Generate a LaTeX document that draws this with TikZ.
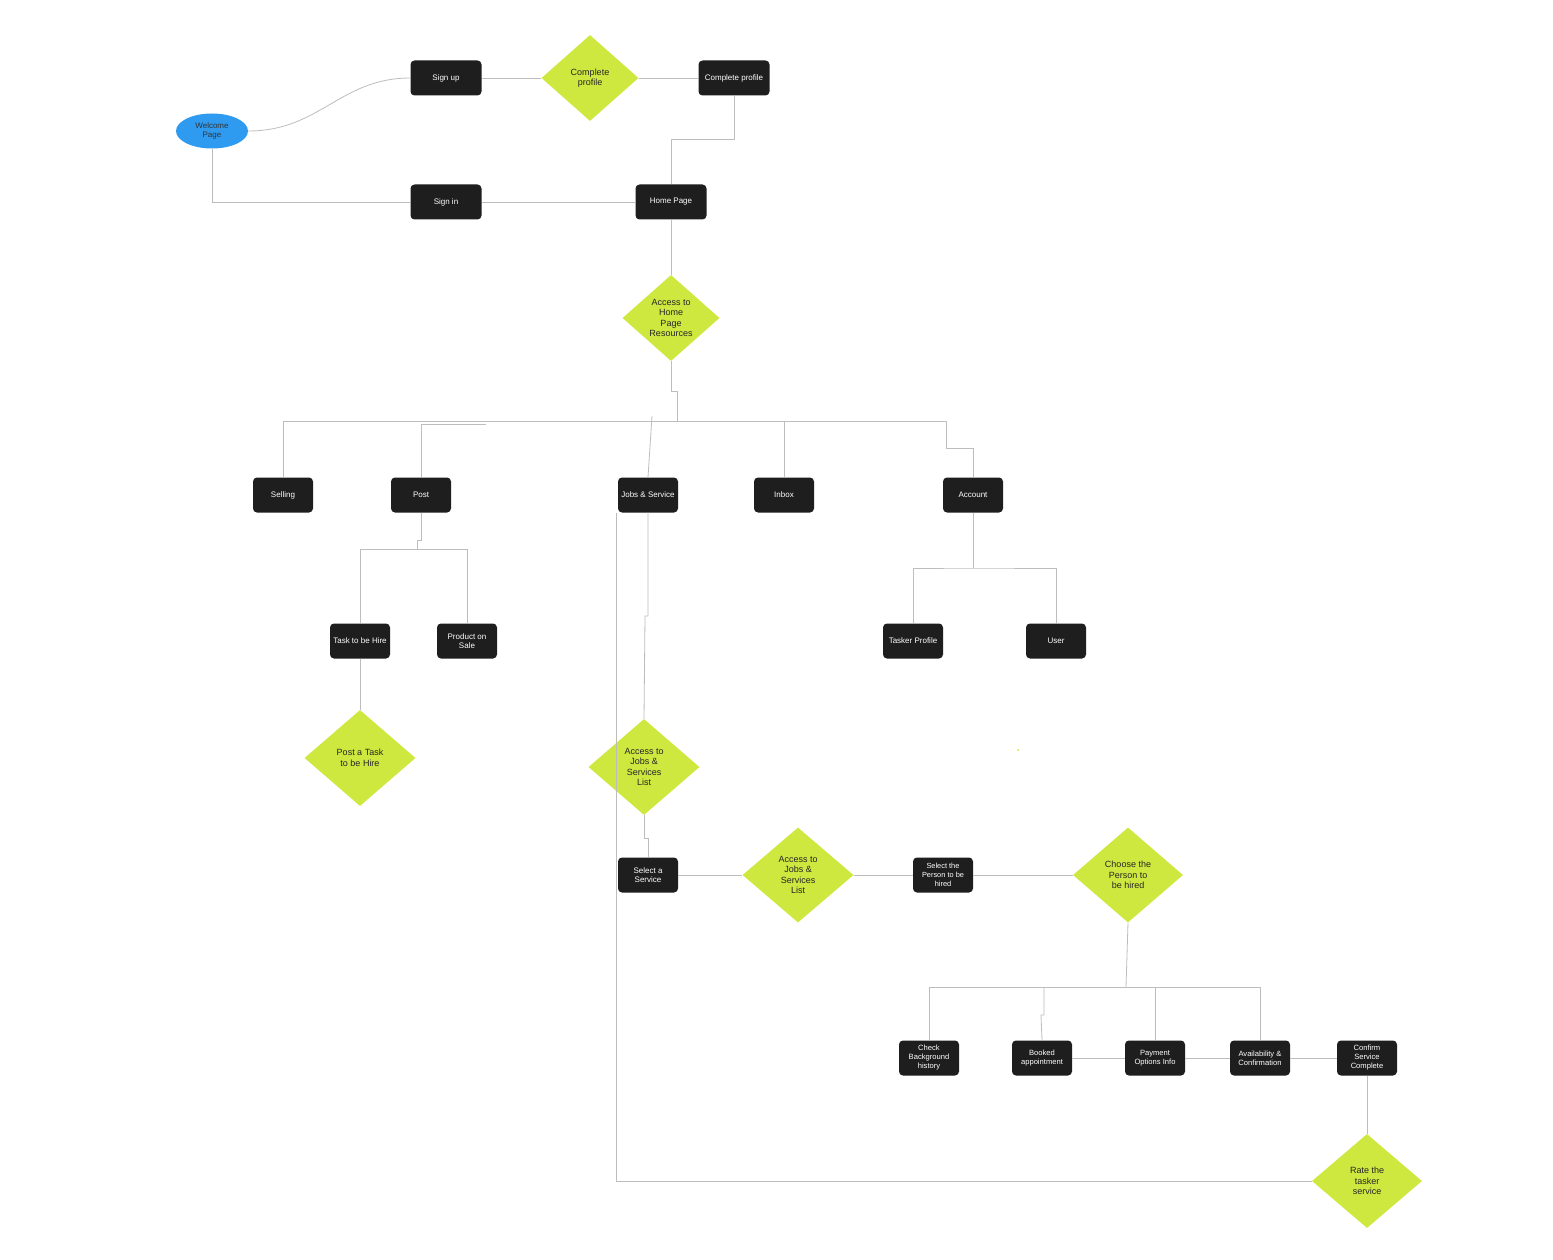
\documentclass[tikz,border=0pt]{standalone}
\usepackage{fontspec}
\setmainfont{Liberation Sans}
\usetikzlibrary{shapes.geometric}
\definecolor{boxc}{HTML}{1E1E1E}
\definecolor{limec}{HTML}{CFE83F}
\definecolor{bluec}{HTML}{2E9BF0}
\definecolor{linec}{HTML}{BDBDBD}
\begin{document}
\begin{tikzpicture}[x=1pt,y=-1pt,
  box/.style={rectangle,rounded corners=4pt,fill=boxc,text=white,minimum width=60pt,minimum height=35pt,inner sep=1pt,align=center,font=\fontsize{8}{9}\selectfont},
  wbox/.style={box,minimum width=71pt},
  dia/.style 2 args={diamond,fill=limec,minimum width=#1pt,minimum height=#2pt,inner sep=0pt},
  dlab/.style={align=center,text=black!85,font=\fontsize{9}{10.5}\selectfont,inner sep=0pt},
  ln/.style={draw=linec,line width=0.8pt}]
\useasboundingbox (0,0) rectangle (1553,1260);
\fill[white] (0,0) rectangle (1553,1260);
% nodes
\node[ellipse,fill=bluec,minimum width=72pt,minimum height=35pt,inner sep=0pt,align=center,text=black!80,font=\fontsize{8}{8.8}\selectfont] (wel) at (212,131) {Welcome\\Page};
\node[wbox] (su) at (446,78) {Sign up};
\node[dia={97}{86},label={[dlab]center:{Complete\\profile}}] (cpd) at (590,78) {};
\node[wbox] (cp) at (734,78) {Complete profile};
\node[wbox] (si) at (446,202) {Sign in};
\node[wbox] (hp) at (671,202) {Home Page};
\node[dia={97}{86},label={[dlab]center:{Access to\\Home\\Page\\Resources}}] (ahr) at (671,318) {};
\node[box] (sel) at (283,495) {Selling};
\node[box] (post) at (421,495) {Post};
\node[box] (js) at (648,495) {Jobs \& Service};
\node[box] (inb) at (784,495) {Inbox};
\node[box] (acc) at (973,495) {Account};
\node[box] (tth) at (360,641) {Task to be Hire};
\node[box] (pos) at (467,641) {Product on\\Sale};
\node[box] (tp) at (913,641) {Tasker Profile};
\node[box] (usr) at (1056,641) {User};
\node[dia={111}{96},label={[dlab]center:{Post a Task\\to be Hire}}] (pt) at (360,758) {};
\node[dia={111}{96},label={[dlab]center:{Access to\\Jobs \&\\Services\\List}}] (aj1) at (644,767) {};
\node[box] (ss) at (648,875) {Select a\\Service};
\node[dia={111}{95},label={[dlab]center:{Access to\\Jobs \&\\Services\\List}}] (aj2) at (798,875) {};
\node[box,font=\fontsize{7.4}{8.8}\selectfont] (sp) at (943,875) {Select the\\Person to be\\hired};
\node[dia={110}{95},label={[dlab]center:{Choose the\\Person to\\be hired}}] (ch) at (1128,875) {};
\node[box,font=\fontsize{7.6}{9}\selectfont] (cb) at (929,1058) {Check\\Background\\history};
\node[box,font=\fontsize{7.6}{9}\selectfont] (ba) at (1042,1058) {Booked\\appointment};
\node[box,font=\fontsize{7.6}{9}\selectfont] (po) at (1155,1058) {Payment\\Options Info};
\node[box,font=\fontsize{7.6}{9}\selectfont] (av) at (1260,1058) {Availability \&\\Confirmation};
\node[box,font=\fontsize{7.6}{9}\selectfont] (cs) at (1367,1058) {Confirm\\Service\\Complete};
\node[dia={110}{94},label={[dlab]center:{Rate the\\tasker\\service}}] (rt) at (1367,1181) {};
\fill[limec] (1018,750) circle (1pt);
% connectors
\draw[ln] (wel.east) .. controls (320,131) and (340,78) .. (su.west);
\draw[ln] (wel.south) |- (si.west);
\draw[ln] (su.east) -- (cpd.west);
\draw[ln] (cpd.east) -- (cp.west);
\draw[ln] (cp.south) -- ++(0,44) -| (hp.north);
\draw[ln] (si.east) -- (hp.west);
\draw[ln] (hp.south) -- (ahr.north);
\draw[ln] (ahr.south) -- (671,391) -- (677,391) -- (677,422);
\coordinate (busl) at (283,421);
\coordinate (busr) at (946,421);
\draw[ln] (busl) -- (busr);
\draw[ln] (busl) -- (sel.north);
\draw[ln] (486,424) -| (post.north);
\draw[ln] (652,416) -- (js.north);
\draw[ln] (784,421) -- (inb.north);
\draw[ln] (busr) -- (946,448) -| (acc.north);
\draw[ln] (post.south) -- (421,540) -- (417,540) -- (417,549);
\draw[ln] (tth.north) |- (pos.north |- 0,549) -- (pos.north);
\draw[ln] (tth.south) -- (pt.north);
\draw[ln] (acc.south) -- (973,568);
\draw[ln] (tp.north) |- (973,568) -| (usr.north);
\draw[ln] (js.south) -- (648,616) -- (645,616) -- (aj1.north);
\draw[ln] (aj1.south) -- (644,838) -- (648,838) -- (ss.north);
\draw[ln] (ss.east) -- (aj2.west);
\draw[ln] (aj2.east) -- (sp.west);
\draw[ln] (sp.east) -- (ch.west);
\draw[ln] (ch.south) -- (1126,987);
\draw[ln] (cb.north) |- (av.north |- 0,987) -- (av.north);
\draw[ln] (1044,987) -- (1044,1015) -- (1041,1015) -- (ba.north);
\draw[ln] (1155,987) -- (po.north);
\draw[ln] (ba.east) -- (po.west);
\draw[ln] (po.east) -- (av.west);
\draw[ln] (av.east) -- (cs.west);
\draw[ln] (cs.south) -- (rt.north);
\draw[ln] (rt.west) -| ([xshift=-1pt]js.south west);
\end{tikzpicture}
\end{document}
